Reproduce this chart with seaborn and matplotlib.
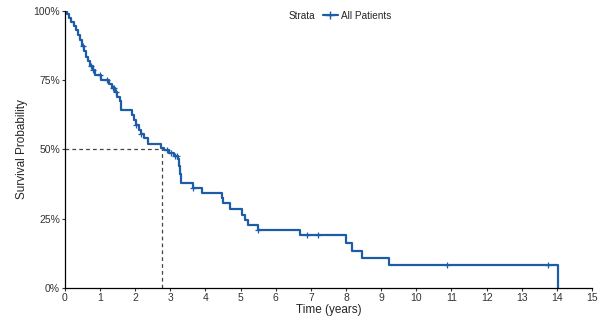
import numpy as np
import pandas as pd
import matplotlib
matplotlib.use("Agg")
import matplotlib.pyplot as plt
import seaborn as sns
from matplotlib.lines import Line2D

# Kaplan-Meier steps (time in years, survival after step)
step_times = [0.00, 0.06, 0.12, 0.18, 0.25, 0.31, 0.37, 0.43, 0.49, 0.55, 0.61,
              0.67, 0.73, 0.80, 0.86, 1.04, 1.26, 1.34, 1.42, 1.50, 1.56, 1.61,
              1.90, 1.96, 2.03, 2.10, 2.17, 2.25, 2.36, 2.75, 2.83, 2.97, 3.12,
              3.22, 3.26, 3.29, 3.31, 3.64, 3.89, 4.46, 4.51, 4.70, 5.03, 5.12,
              5.22, 5.50, 6.69, 8.00, 8.16, 8.45, 9.23, 14.02]
step_surv = [1.000, 0.990, 0.975, 0.960, 0.945, 0.930, 0.912, 0.895, 0.875, 0.855, 0.835,
             0.818, 0.800, 0.785, 0.768, 0.752, 0.735, 0.722, 0.709, 0.690, 0.675, 0.643,
             0.625, 0.605, 0.588, 0.570, 0.555, 0.543, 0.520, 0.505, 0.497, 0.488, 0.476,
             0.465, 0.440, 0.410, 0.380, 0.360, 0.342, 0.324, 0.306, 0.285, 0.265, 0.245,
             0.228, 0.209, 0.190, 0.162, 0.135, 0.108, 0.081, 0.000]
censor_times = [0.52, 0.76, 0.80, 1.00, 1.19, 1.37, 1.40, 1.47, 2.04, 2.18, 2.90,
                3.02, 3.15, 3.18, 3.65, 5.50, 6.88, 7.21, 10.88, 13.74]
median_time = 2.76
x_ticks = list(range(0, 16))
y_ticks = [0, 0.25, 0.5, 0.75, 1.0]
y_labels = ["0%", "25%", "50%", "75%", "100%"]

blue = "#1d5ca6"

sns.set_theme(style="white")
plt.rcParams["font.family"] = ["Liberation Sans", "DejaVu Sans"]

km = pd.DataFrame({"time": step_times, "surv": step_surv})
idx = np.searchsorted(step_times, censor_times, side="right") - 1
cens = pd.DataFrame({"time": censor_times, "surv": np.array(step_surv)[idx]})

fig = plt.figure(figsize=(6.11, 3.21), dpi=100)
ax = fig.add_axes([0.106, 0.103, 0.863, 0.863])

sns.lineplot(data=km, x="time", y="surv", drawstyle="steps-post", color=blue,
             linewidth=1.6, estimator=None, ax=ax)
ax.plot(cens["time"], cens["surv"], linestyle="none", marker="+", markersize=5,
        markeredgewidth=0.9, color=blue)

# median survival guide lines
ax.plot([0, median_time], [0.5, 0.5], linestyle=(0, (3, 2.5)), color="#444444", linewidth=0.9)
ax.plot([median_time, median_time], [0, 0.5], linestyle=(0, (3, 2.5)), color="#444444", linewidth=0.9)

ax.set_xlim(0, 15)
ax.set_ylim(0, 1)
ax.set_xticks(x_ticks)
ax.set_yticks(y_ticks)
ax.set_yticklabels(y_labels)
ax.tick_params(axis="both", direction="out", length=2.2, width=0.8, labelsize=7.5,
               colors="#333333", pad=1.2, bottom=True, left=True)
for side in ["top", "right"]:
    ax.spines[side].set_visible(False)
for side in ["left", "bottom"]:
    ax.spines[side].set_color("black")
    ax.spines[side].set_linewidth(0.9)

ax.set_xlabel("Time (years)", fontsize=8.5, labelpad=1)
ax.set_ylabel("Survival Probability", fontsize=8.5, labelpad=4)

# legend at top
fig.text(0.472, 0.951, "Strata", fontsize=7.2, ha="left", va="center", color="#222222")
handle = Line2D([0], [0], color=blue, linewidth=1.6, marker="+", markersize=6,
                markeredgewidth=1.0)
fig.legend([handle], ["All Patients"], loc="center left", bbox_to_anchor=(0.528, 0.951),
           frameon=False, fontsize=7.2, handlelength=1.5, handletextpad=0.35,
           borderaxespad=0, borderpad=0)

fig.savefig("out.png", dpi=100)
